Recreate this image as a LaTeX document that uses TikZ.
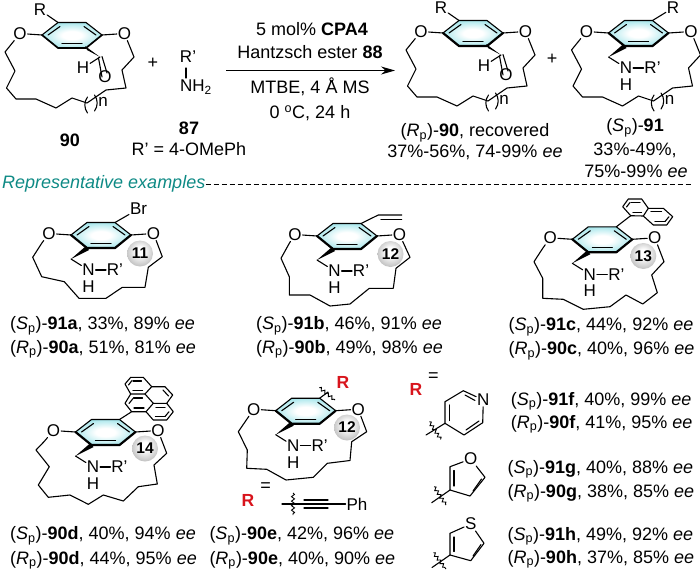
\documentclass[tikz,border=0pt]{standalone}
\usepackage{fontspec}
\setmainfont{Liberation Sans}
\usepackage{xcolor}
\usetikzlibrary{arrows.meta, calc, decorations.pathmorphing}
\definecolor{ringcyan}{HTML}{74D8E0}
\definecolor{headteal}{HTML}{0E8A85}
\definecolor{groupred}{HTML}{D8141C}
\definecolor{ballgrey}{HTML}{A6A6A6}
\pgfdeclareradialshading{ringfade}{\pgfpoint{0bp}{0bp}}{color(0bp)=(white); color(8bp)=(white); color(36bp)=(ringcyan); color(50bp)=(ringcyan)}
\pgfdeclareradialshading{ballfade}{\pgfpoint{0bp}{6bp}}{color(0bp)=(white); color(8bp)=(white); color(36bp)=(ballgrey); color(50bp)=(ballgrey)}

\tikzset{
    aryl/.pic={
        \coordinate (-l) at (-30,0);
        \coordinate (-tl) at (-14,-12.5);
        \coordinate (-tr) at (14,-12.5);
        \coordinate (-r) at (30,0);
        \coordinate (-br) at (14,13);
        \coordinate (-bl) at (-14,13);
        \shade[shading=ringfade] (-l) -- (-tl) -- (-tr) -- (-r) -- (-br) -- (-bl) -- cycle;
        \draw[bond] (-l) -- (-tl) -- (-tr) -- (-r);
        \draw[frontbond] (-l) -- (-bl) -- (-br) -- (-r);
        \draw[bond] (-24,0) -- (-12,-8.5);
        \draw[bond] (12,-8.5) -- (24,0);
        \draw[bond] (-10,8.5) -- (10,8.5);
        \node[atom] (-ol) at (-52,-1.5) {O};
        \node[atom] (-or) at (52.5,-1.5) {O};
        \draw[bond] (-l) -- (-ol);
        \draw[bond] (-r) -- (-or);
    },
    amine/.pic={
        \fill (-30,24) -- (-15,11) -- (-12,15) -- cycle;
        \node[atom] (-n) at (-12.5,35) {N};
        \node[atom] (-h) at (-12.5,51.5) {H};
        \node[atom] (-rp) at (14,35) {R'};
        \draw[bond] (-30,24) -- (-n);
        \draw[bond] (-n) -- (-rp);
    },
    formyl/.pic={
        \fill (28,22) -- (13,11) -- (15,15) -- cycle;
        \node[atom] (-h) at (11,33) {H};
        \node[atom] (-oc) at (33,42) {O};
        \draw[bond] (-h) -- (28,22);
        \draw[bond] (26.5,23) -- ($(-oc)+(-3,0)$);
        \draw[bond] (30,21.5) -- ($(-oc)+(2,-4)$);
    },
    bigring/.pic={
        \draw[bond] (-ol) -- (-67,17) -- (-57,36) -- (-65.5,53) -- (-56,64) -- (-36,64) -- (-16,73) -- (0,63) -- (15,68) -- (34,55) -- (54,53) -- (50,35) -- (62,22) -- (-or);
        \draw[bond] (15.5,62) to[bend right=35] (15.5,78);
        \draw[bond] (22.5,60) to[bend left=35] (22.5,76);
        \node[atom] (-sz) at (31,67) {n};
    },
}
\begin{document}
\begin{tikzpicture}[
    x=1pt, y=-1pt,
    font=\fontsize{18}{20}\selectfont,
    atom/.style={font=\fontsize{17}{17}\selectfont, inner sep=0.8pt},
    bond/.style={line width=1.1pt, line join=round, line cap=round},
    frontbond/.style={line width=2.2pt, line join=round, line cap=round},
    lbl/.style={inner sep=0pt},
    yield/.style={inner sep=0pt, anchor=base west},
    sphere/.style={circle, minimum size=26pt, inner sep=0pt, shade, shading=ballfade, font=\fontsize{15.5}{15.5}\selectfont\bfseries},
    squiggle/.style={line width=0.9pt, decorate, decoration={snake, segment length=4.5pt, amplitude=1.5pt}},
    redR/.style={text=groupred, font=\fontsize{17.5}{17.5}\selectfont\bfseries, inner sep=0pt},
]
    \useasboundingbox (0,0) rectangle (700,570);

    % substrate and amine
    \pic[frontbond/.append style={line width=1.7pt}] (sub) at (72,35) {aryl};
    \pic (sub) at (72,35) {formyl};
    \pic (sub) at (72,35) {bigring};
    \node[atom] (subR) at (40,10) {R};
    \draw[bond] (subR) -- (sub-tl);
    \node[lbl, font=\fontsize{18}{18}\selectfont\bfseries] (lbl90) at (70,140) {90};
    \node[lbl] (plusa) at (153,63) {+};
    \node[atom] (amR) at (188,57) {R'};
    \node[atom] (amN) at (196,87) {NH\textsubscript{2}};
    \draw[bond] (186,68) -- (186,78);
    \node[lbl, font=\fontsize{18}{18}\selectfont\bfseries] (lbl87) at (189,128) {87};
    \node[lbl] (lblRp) at (189,149) {R' = 4-OMePh};

    % conditions
    \node[lbl] (cona) at (312,29) {5 mol\% \textbf{CPA4}};
    \node[lbl] (conb) at (310,52) {Hantzsch ester \textbf{88}};
    \coordinate (arrowS) at (226,70.5);
    \coordinate (arrowE) at (395,70.5);
    \draw[-{Stealth[length=14pt, width=8pt]}, line width=1.1pt] (arrowS) -- (arrowE);
    \node[lbl] (conc) at (310,87) {MTBE, 4 Å MS};
    \node[lbl] (cond) at (310,113) {0 \textsuperscript{o}C, 24 h};

    % products
    \pic (rec) at (473,33) {aryl};
    \pic (rec) at (473,33) {formyl};
    \pic (rec) at (473,33) {bigring};
    \node[atom] (recR) at (441,8) {R};
    \draw[bond] (recR) -- (rec-tl);
    \node[lbl] (lblreca) at (475,132.5) {(\textit{R}\textsubscript{p})-\textbf{90}, recovered};
    \node[lbl] (lblrecb) at (475,152) {37\%-56\%, 74-99\% \textit{ee}};
    \node[lbl] (plusb) at (552,59) {+};
    \pic (pro) at (638.5,33) {aryl};
    \pic (pro) at (638.5,33) {amine};
    \pic (pro) at (638.5,33) {bigring};
    \node[atom] (proR) at (673,8) {R};
    \draw[bond] (proR) -- (pro-tr);
    \node[lbl] (lblproa) at (635,127.5) {(\textit{S}\textsubscript{p})-\textbf{91}};
    \node[lbl] (lblprob) at (635,150) {33\%-49\%,};
    \node[lbl] (lblproc) at (636,171.5) {75\%-99\% \textit{ee}};

    % heading
    \node[lbl, anchor=west, text=headteal, font=\fontsize{18}{18}\selectfont\itshape] (head) at (2,184) {Representative examples};
    \coordinate (headE) at (693,184);
    \draw[dash pattern=on 5pt off 3pt, line width=0.9pt] (head.east) -- (headE);

    % 91a
    \pic (a) at (101,235) {aryl};
    \pic (a) at (101,235) {amine};
    \draw[bond] (a-ol) -- (41.7,243.3) -- (32.7,257.3) -- (41.7,276.7) -- (64.3,281.7) -- (79,298.3) -- (106,298.3) -- (122.3,287.3) -- (145,287.3) -- (148.3,267.3) -- (162.3,256.7) -- (a-or);
    \node[sphere] (ball11) at (140,253.5) {11};
    \node[atom] (aBr) at (138.5,209) {Br};
    \draw[bond] (a-tr) -- (aBr);

    % 91b
    \pic (b) at (347,236) {aryl};
    \pic (b) at (347,236) {amine};
    \draw[bond] (b-ol) -- (289.3,243.3) -- (281,258.3) -- (289.3,276.7) -- (289.3,295) -- (310,295) -- (330,306) -- (350,304) -- (369.3,288.3) -- (393.3,288.3) -- (396,268.3) -- (410,257.3) -- (b-or);
    \node[sphere] (ball12a) at (390.5,254) {12};
    \draw[bond] (b-tr) -- (378.3,215) -- (401.7,215);
    \draw[bond] (381,219.5) -- (401.7,219.5);

    % 91c
    \pic (c) at (602.3,239.3) {aryl};
    \pic (c) at (602.3,239.3) {amine};
    \draw[bond] (c-ol) -- (542.7,248.3) -- (534,261.7) -- (542.7,278.3) -- (542.7,298.3) -- (563.3,299.3) -- (583.3,309.3) -- (610,306.7) -- (626,295) -- (642.7,304) -- (657.3,292.7) -- (651.7,275) -- (664,261.7) -- (c-or);
    \node[sphere] (ball13) at (643.3,256) {13};
    \draw[bond] (c-tr) -- (630.7,215.7);
    \draw[bond] (630.7,215.7) -- (622.7,206.7) -- (628.3,199) -- (641.7,199) -- (648.3,208.3) -- (643.3,216) -- cycle;
    \draw[bond] (648.3,208.3) -- (663.3,208.3) -- (672.7,216.7) -- (666.7,225) -- (653.3,225) -- (643.3,216);
    \draw[bond] (631,202.5) -- (640,202.5);
    \draw[bond] (626.5,207) -- (630,202.5);
    \draw[bond] (633,212.5) -- (641.5,212.5);
    \draw[bond] (651,211.8) -- (661.5,211.8);
    \draw[bond] (669,216.7) -- (665,221.5);
    \draw[bond] (655,221.5) -- (665,221.5);

    % 90d
    \pic (d) at (105.5,432) {aryl};
    \pic (d) at (105.5,432) {amine};
    \draw[bond] (d-ol) -- (44,441.7) -- (36,450) -- (49.3,466.7) -- (38.3,485) -- (48.3,497.3) -- (70,495) -- (88.3,504.3) -- (103.3,495) -- (123.3,501) -- (138.3,486.7) -- (157.3,484) -- (154,465) -- (166.7,453.3) -- (d-or);
    \node[sphere] (ball14) at (145,448.5) {14};
    \draw[bond] (d-tr) -- (131.7,411.7) -- (125,403.3) -- (130.7,394) -- (125,384) -- (130.7,377.3) -- (143.3,377.3) -- (151.7,386.7) -- (165,386.7) -- (172.7,395) -- (166.7,403.3) -- (173.3,411.7) -- (166.7,420) -- (153.3,420) -- (146,411.7) -- (131.7,411.7);
    \draw[bond] (130.7,394) -- (145,394) -- (151.7,386.7);
    \draw[bond] (145,394) -- (153.3,403.3) -- (166.7,403.3);
    \draw[bond] (153.3,403.3) -- (146,411.7);
    \draw[bond] (133,381) -- (141.5,381);
    \draw[bond] (128.5,385) -- (132,380.5);
    \draw[bond] (133,390.5) -- (142.5,390.5);
    \draw[bond] (163,390) -- (168.5,396);
    \draw[bond] (133.5,398) -- (142.5,398);
    \draw[bond] (129,403.5) -- (133,398.5);
    \draw[bond] (134,408) -- (144,408);
    \draw[bond] (156,407.5) -- (165,407.5);
    \draw[bond] (169,411.7) -- (165,416.5);
    \draw[bond] (155.5,416.5) -- (165,416.5);

    % 90e
    \pic (e) at (305.7,410.7) {aryl};
    \pic (e) at (305.7,410.7) {amine};
    \draw[bond] (e-ol) -- (238.3,431.7) -- (247.3,450) -- (246.7,468.3) -- (266.7,469.3) -- (286,480) -- (313.3,477.3) -- (327.3,463.3) -- (350,460.5) -- (351.7,441.7) -- (366.7,431.7) -- (e-or);
    \node[sphere] (ball12b) at (347,427.5) {12};
    \node[redR] (eR) at (343,382.5) {R};
    \coordinate (eWavy) at (328,392);
    \draw[bond] (e-tr) -- (eWavy);
    \draw[squiggle] (319.3,387.7) -- (335,400);
    \node[redR] (alkR) at (248,500.7) {R};
    \node[lbl] (alkEq) at (265.7,487.3) {=};
    \node[atom] (alkPh) at (357,504) {Ph};
    \coordinate (alkS) at (282,504);
    \draw[bond] (alkS) -- (alkPh);
    \draw[bond] (304,500) -- (328,500);
    \draw[bond] (304,508) -- (328,508);
    \draw[squiggle] (293,493) -- (293,515);

    % R groups
    \node[redR] (hetR) at (416,389.5) {R};
    \node[lbl] (hetEq) at (433.3,376.7) {=};

    \node[atom] (pyN) at (483.3,400) {N};
    \coordinate (pyS) at (426,435);
    \draw[bond] (pyN) -- (482.7,422.7) -- (464,435) -- (445,423.3) -- (445,401.7) -- (463.3,390.7) -- (pyN);
    \draw[bond] (445,423.3) -- (pyS);
    \draw[bond] (449.3,405) -- (449.3,420.5);
    \draw[bond] (465,395) -- (475,400.5);
    \draw[bond] (466,430) -- (479,421);
    \draw[squiggle] (429.3,421.7) -- (440.7,439.3);

    \node[atom] (fuO) at (470.7,459) {O};
    \coordinate (fuS) at (431.7,502.7);
    \draw[bond] (fuO) -- (485,477.3) -- (470,496) -- (450,490) -- (450,466.7) -- (fuO);
    \draw[bond] (450,490) -- (fuS);
    \draw[bond] (454,470.5) -- (454,486);
    \draw[bond] (473,491) -- (481.5,479);
    \draw[squiggle] (434,486.7) -- (446,505);

    \node[atom] (thS) at (470.7,524) {S};
    \coordinate (thE) at (432,567.5);
    \draw[bond] (thS) -- (484,543.3) -- (470.7,560.7) -- (450,555) -- (450,533.3) -- (thS);
    \draw[bond] (450,555) -- (thE);
    \draw[bond] (454,537) -- (454,551.5);
    \draw[bond] (473,556) -- (481,544.5);
    \draw[squiggle] (433.3,552.7) -- (446,569);

    % yields
    \foreach \nm/\px/\py/\cfg/\cmpd/\pc/\en in {
        ya/10/329.8/S/91a/33/89, yb/10/353.2/R/90a/51/81,
        yc/256/329.8/S/91b/46/91, yd/256/353.2/R/90b/49/98,
        ye/508.5/330.5/S/91c/44/92, yf/508.5/354.8/R/90c/40/96,
        yg/10/539.8/S/90d/40/94, yh/10/564.2/R/90d/44/95,
        yi/209.3/539.8/S/90e/42/96, yj/209.3/564.2/R/90e/40/90,
        yk/510.7/405/S/91f/40/99, yl/510.7/428/R/90f/41/95,
        ym/507.3/473/S/91g/40/88, yn/507.3/497/R/90g/38/85,
        yo/507.3/540/S/91h/49/92, yp/507.3/563/R/90h/37/85}
        \node[yield] (\nm) at (\px,\py) {(\textit{\cfg}\textsubscript{p})-\textbf{\cmpd}, \pc\%, \en\% \textit{ee}};
\end{tikzpicture}
\end{document}
